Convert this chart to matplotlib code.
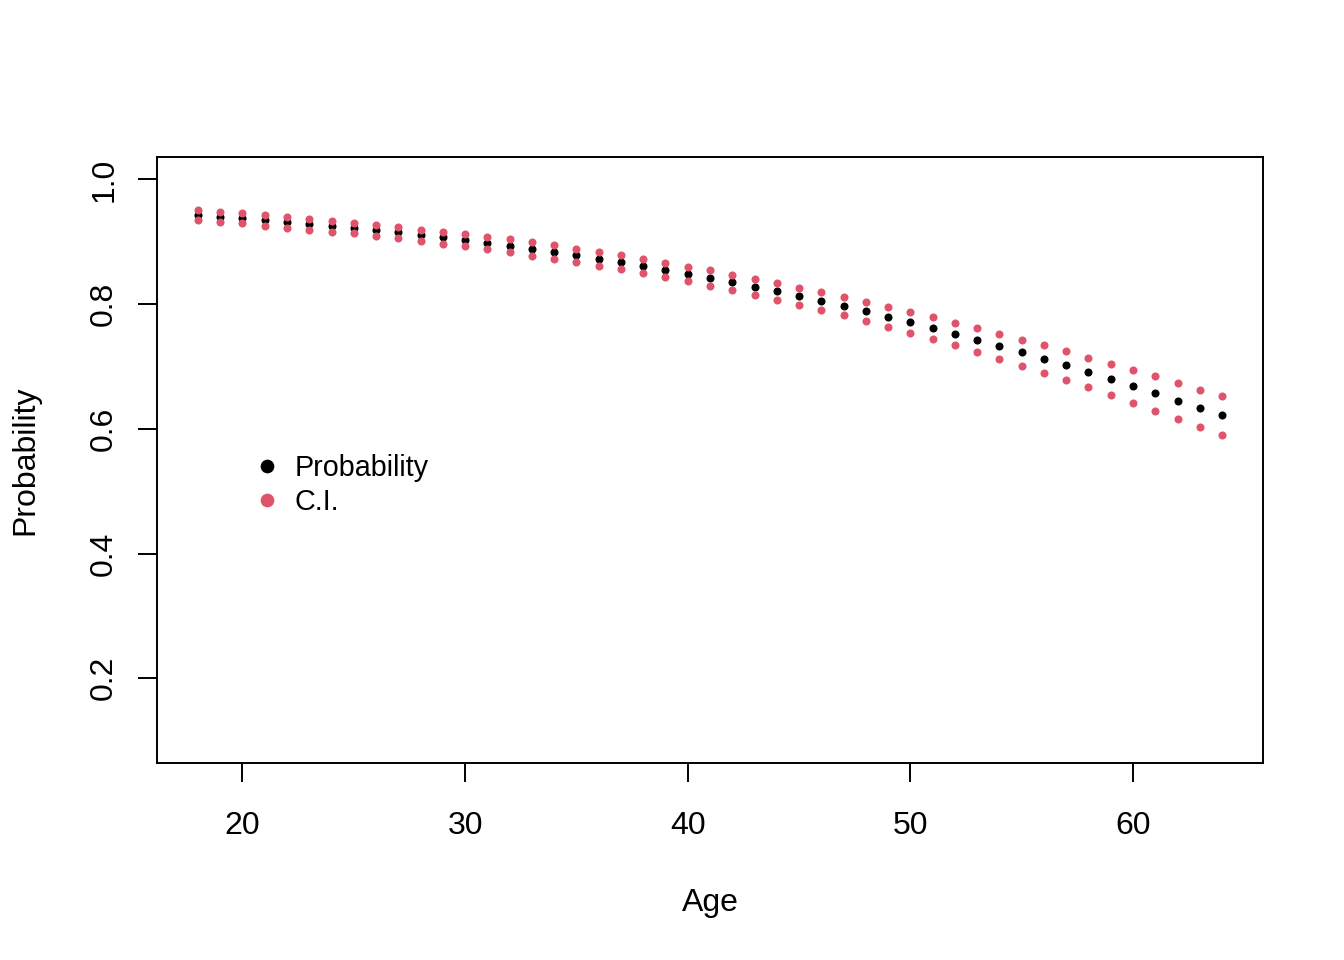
import numpy as np
import matplotlib
matplotlib.use("Agg")
import matplotlib.pyplot as plt

plt.rcParams['font.family'] = ['Liberation Sans', 'DejaVu Sans']

# values
age = np.arange(18, 65)

prob = [0.9437, 0.9405, 0.9389, 0.9357, 0.9325, 0.9293, 0.9261, 0.9229, 0.9186, 0.9154,
        0.9111, 0.9069, 0.9026, 0.8974, 0.8935, 0.8883, 0.8830, 0.8782, 0.8728, 0.8670,
        0.8607, 0.8543, 0.8479, 0.8415, 0.8351, 0.8273, 0.8207, 0.8128, 0.8048, 0.7968,
        0.7888, 0.7793, 0.7713, 0.7617, 0.7521, 0.7425, 0.7330, 0.7234, 0.7122, 0.7026,
        0.6915, 0.6803, 0.6691, 0.6579, 0.6452, 0.6340, 0.6228]

ci_upper = [0.9516, 0.9484, 0.9468, 0.9437, 0.9405, 0.9373, 0.9341, 0.9309, 0.9271, 0.9245,
            0.9197, 0.9165, 0.9122, 0.9069, 0.9038, 0.8990, 0.8942, 0.8878, 0.8830, 0.8782,
            0.8718, 0.8655, 0.8591, 0.8543, 0.8463, 0.8399, 0.8335, 0.8255, 0.8191, 0.8112,
            0.8032, 0.7952, 0.7872, 0.7793, 0.7697, 0.7617, 0.7521, 0.7425, 0.7346, 0.7250,
            0.7138, 0.7042, 0.6947, 0.6851, 0.6739, 0.6627, 0.6531]

ci_lower = [0.9357, 0.9325, 0.9298, 0.9261, 0.9229, 0.9197, 0.9165, 0.9133, 0.9086, 0.9054,
            0.9006, 0.8967, 0.8926, 0.8878, 0.8830, 0.8776, 0.8718, 0.8670, 0.8607, 0.8559,
            0.8495, 0.8431, 0.8367, 0.8287, 0.8224, 0.8144, 0.8064, 0.7984, 0.7904, 0.7824,
            0.7729, 0.7633, 0.7537, 0.7441, 0.7346, 0.7234, 0.7122, 0.7010, 0.6899, 0.6787,
            0.6675, 0.6547, 0.6420, 0.6292, 0.6164, 0.6037, 0.5909]

x_ticks = [20, 30, 40, 50, 60]
y_ticks = [0.2, 0.4, 0.6, 0.8, 1.0]

red = '#DF536B'
fs = 23

fig = plt.figure(figsize=(13.44, 9.6), dpi=100)
ax = fig.add_axes([157/1344, 1-763/960, (1263-157)/1344, (763-157)/960])

ax.plot(age, prob, 'o', color='black', ms=5.8, mew=0, label='Probability')
ax.plot(age, ci_lower, 'o', color=red, ms=5.8, mew=0, label='C.I.')
ax.plot(age, ci_upper, 'o', color=red, ms=5.8, mew=0)

# R style: 4% padding around data range
ax.set_xlim(18 - 0.04*46, 64 + 0.04*46)
ax.set_ylim(0.1 - 0.04*0.9, 1.0 + 0.04*0.9)

ax.set_xticks(x_ticks)
ax.set_xticklabels([str(t) for t in x_ticks])
ax.set_yticks(y_ticks)
ax.set_yticklabels(['%.1f' % t for t in y_ticks])

for s in ax.spines.values():
    s.set_linewidth(1.4)
ax.tick_params(axis='both', length=13.7, width=1.4, labelsize=fs)
ax.tick_params(axis='x', pad=21)
ax.tick_params(axis='y', pad=13.5)
for lab in ax.get_yticklabels():
    lab.set_rotation(90)
    lab.set_verticalalignment('center')

fig.text(710/1344, 1-911/960, 'Age', ha='center', va='baseline', fontsize=fs)
fig.text(25/1344, 1-460/960, 'Probability', ha='center', va='center', rotation=90, fontsize=fs)

leg = ax.legend(loc='upper left', bbox_to_anchor=(253/1344, 1-454/960), bbox_transform=fig.transFigure,
                frameon=False, fontsize=20.7, handlelength=1.0, handletextpad=0.45,
                labelspacing=0.2, borderpad=0, borderaxespad=0, markerscale=1.7)

fig.savefig('out.png', dpi=100)
